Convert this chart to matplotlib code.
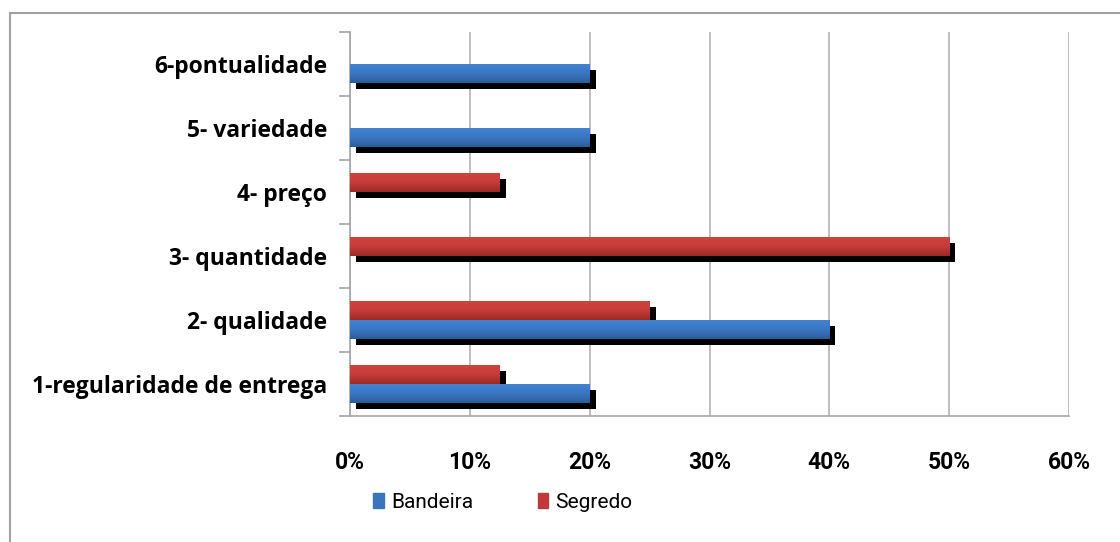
import matplotlib
matplotlib.use("Agg")
import matplotlib.pyplot as plt
import numpy as np
from matplotlib.transforms import offset_copy
from matplotlib.lines import Line2D
from matplotlib.colors import LinearSegmentedColormap
from matplotlib.patches import Rectangle

categories = ["1-regularidade de entrega", "2- qualidade", "3- quantidade",
              "4- preço", "5- variedade", "6-pontualidade"]
bandeira = [0.20, 0.40, 0.0, 0.0, 0.20, 0.20]
segredo = [0.125, 0.25, 0.50, 0.125, 0.0, 0.0]
xticks = [0, 0.1, 0.2, 0.3, 0.4, 0.5, 0.6]
xlabels = ["0%", "10%", "20%", "30%", "40%", "50%", "60%"]

fig = plt.figure(figsize=(11.2, 5.42), dpi=100)
ax = fig.add_axes([350/1120, 1-416/542, (1069-350)/1120, (416-32)/542])

y = np.arange(len(categories))
h = 0.3
blue_cmap = LinearSegmentedColormap.from_list("b", ["#2c5c9a", "#3a78c4", "#4383d2"])
red_cmap = LinearSegmentedColormap.from_list("r", ["#9a2a28", "#c63c3a", "#d2423f"])

shadow_tr = offset_copy(ax.transData, fig=fig, x=6, y=-6, units="dots")

def draw(vals, ypos, cmap, label, color):
    ax.barh(ypos, vals, height=h, color="black", linewidth=0,
            transform=shadow_tr, zorder=2)
    bars = ax.barh(ypos, vals, height=h, color=color, linewidth=0,
                   zorder=3, label=label)
    grad = np.linspace(0, 1, 64).reshape(-1, 1)
    for b in bars:
        if b.get_width() <= 0:
            continue
        x0, y0 = b.get_x(), b.get_y()
        im = ax.imshow(grad, cmap=cmap, aspect="auto", origin="lower",
                       extent=[x0, x0 + b.get_width(), y0, y0 + b.get_height()],
                       zorder=4, interpolation="bilinear")
        im.set_clip_path(b)

draw(segredo, y + h/2, red_cmap, "Segredo", "#c0393a")
draw(bandeira, y - h/2, blue_cmap, "Bandeira", "#3a74bd")

ax.set_xlim(0, 0.6)
ax.set_ylim(-0.5, len(categories) - 0.5)

ax.set_xticks(xticks)
ax.set_xticklabels(xlabels, fontsize=16.5, fontweight="bold",
                   family=["Roboto", "DejaVu Sans"])
ax.set_yticks(y)
ax.set_yticklabels(categories, fontsize=16.5, fontweight="bold",
                   family=["Open Sans", "DejaVu Sans"])
ax.tick_params(axis="y", length=0, pad=16.5)
ax.tick_params(axis="x", length=0, pad=25)

# category boundary ticks on y axis
ax.set_yticks(np.arange(-0.5, len(categories)), minor=True)
ax.tick_params(axis="y", which="minor", length=8, color="#a6a6a6", width=1.2)
ax.set_xticks(xticks, minor=True)
ax.tick_params(axis="x", which="minor", length=9, color="#a6a6a6", width=1.2)

ax.grid(axis="x", color="#b3b3b3", linewidth=1.2, zorder=0)
ax.set_axisbelow(True)
for s in ["top", "right"]:
    ax.spines[s].set_visible(False)
for s in ["left", "bottom"]:
    ax.spines[s].set_color("#a6a6a6")
    ax.spines[s].set_linewidth(1.2)

handles = [Rectangle((0, 0), 1, 1, color="#3a74bd"), Rectangle((0, 0), 1, 1, color="#c0393a")]
leg = fig.legend(handles, ["Bandeira", "Segredo"], loc="center",
                 bbox_to_anchor=(503/1120, 1-502/542), ncol=2, frameon=False,
                 prop={"family": ["Roboto", "DejaVu Sans"], "size": 15},
                 handlelength=0.5, handleheight=0.7, handletextpad=0.35,
                 columnspacing=3.1)

# outer border
fig.add_artist(Line2D([10/1120, 1], [1-13/542, 1-13/542], color="#a0a0a0", lw=1.5,
                      transform=fig.transFigure))
fig.add_artist(Line2D([10/1120, 10/1120], [0, 1-13/542], color="#a0a0a0", lw=1.5,
                      transform=fig.transFigure))

fig.savefig("out.png", dpi=100)
